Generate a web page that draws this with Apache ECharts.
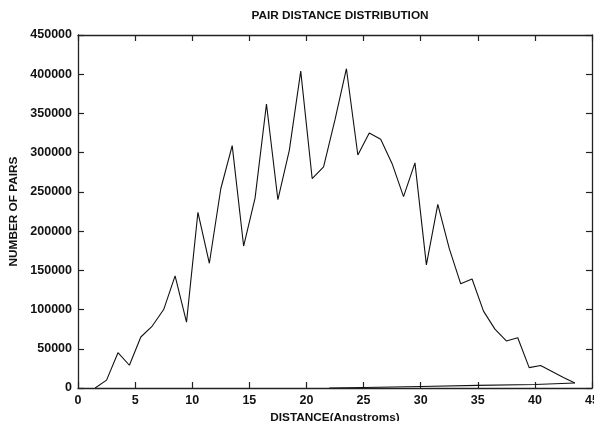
<!DOCTYPE html>
<html>
<head>
<meta charset="utf-8">
<script src="https://cdn.jsdelivr.net/npm/echarts@6/dist/echarts.min.js"></script>
<style>html,body{margin:0;padding:0;background:#fff}#c{width:594px;height:421px}</style>
</head>
<body>
<div id="c"></div>
<script>
var distances = [1.5,2.5,3.5,4.5,5.5,6.5,7.5,8.5,9.5,10.5,11.5,12.5,13.5,14.5,15.5,16.5,17.5,18.5,19.5,20.5,21.5,22.5,23.5,24.5,25.5,26.5,27.5,28.5,29.5,30.5,31.5,32.5,33.5,34.5,35.5,36.5,37.5,38.5,39.5,40.5,41.5,42.5,43.5];
var pairs = [0,10000,45000,29000,65000,79000,100000,143000,84000,224000,159000,254000,309000,181000,242000,362000,240000,303000,404000,267000,282000,342000,407000,297000,325000,317000,286000,244000,287000,157000,234000,178000,133000,139000,98000,75000,60000,64000,26000,28600,21000,13500,6400];
var tailX = [43.5, 40, 35, 30, 25, 22];
var tailY = [6400, 4500, 3300, 2000, 700, 0];

var font = '"Liberation Sans", Arial, sans-serif';
function zip(a,b){return a.map(function(v,i){return [v,b[i]];});}
var chart = echarts.init(document.getElementById('c'));
function axLine(){return {show:true, onZero:false, lineStyle:{color:'#222', width:1.3}};}
function tick(){return {show:true, inside:true, length:6, lineStyle:{color:'#222', width:1.2}};}
var lblStyle = {fontFamily:font, fontSize:12.5, fontWeight:'bold', color:'#111', margin:6, formatter:function(v){return String(v);}};
var nameStyle = {fontFamily:font, fontSize:11.8, fontWeight:'bold', color:'#111'};
chart.setOption({
  animation:false,
  title:{text:'PAIR DISTANCE DISTRIBUTION', left:335, top:5, textAlign:'center',
    textStyle:{fontFamily:font, fontSize:11.8, fontWeight:'bold', color:'#111'}},
  grid:{left:78, right:2, top:35, bottom:33, outerBoundsMode:'none', containLabel:false},
  xAxis:[{type:'value', min:0, max:45, interval:5, position:'bottom',
    name:'DISTANCE(Angstroms)', nameLocation:'middle', nameGap:24,
    nameTextStyle:nameStyle,
    axisLine:axLine(), axisTick:tick(), axisLabel:Object.assign({}, lblStyle, {margin:6}), splitLine:{show:false}},
   {type:'value', min:0, max:45, interval:5, position:'top',
    axisLine:axLine(), axisTick:tick(), axisLabel:{show:false}, splitLine:{show:false}}],
  yAxis:[{type:'value', min:0, max:450000, interval:50000, position:'left',
    name:'NUMBER OF PAIRS', nameLocation:'middle', nameGap:58, nameRotate:90,
    nameTextStyle:nameStyle,
    axisLine:axLine(), axisTick:tick(), axisLabel:lblStyle, splitLine:{show:false}},
   {type:'value', min:0, max:450000, interval:50000, position:'right',
    axisLine:axLine(), axisTick:tick(), axisLabel:{show:false}, splitLine:{show:false}}],
  series:[
    {type:'line', xAxisIndex:0, yAxisIndex:0, data:zip(distances,pairs), showSymbol:false, lineStyle:{color:'#111', width:1.1}},
    {type:'line', xAxisIndex:0, yAxisIndex:0, data:zip(tailX,tailY), showSymbol:false, lineStyle:{color:'#111', width:1.1}},
    {type:'line', xAxisIndex:1, yAxisIndex:1, data:[[0,0]], showSymbol:false, lineStyle:{opacity:0}, silent:true}
  ]
});
</script>
</body>
</html>
